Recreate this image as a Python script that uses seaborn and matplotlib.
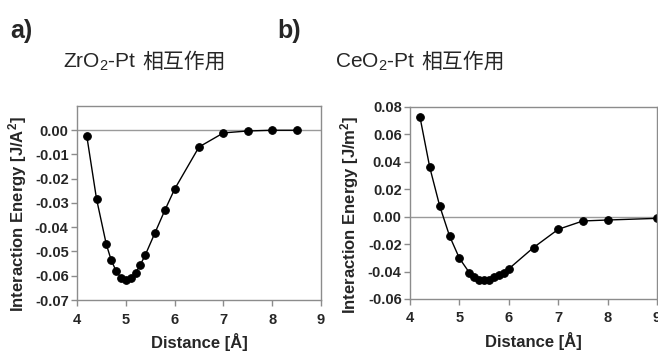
import matplotlib
matplotlib.use("Agg")
import matplotlib.pyplot as plt
import seaborn as sns
import pandas as pd

# Panel a: ZrO2-Pt
dist_a = [4.2, 4.4, 4.6, 4.7, 4.8, 4.9, 5.0, 5.1, 5.2, 5.3, 5.4, 5.6, 5.8, 6.0, 6.5, 7.0, 7.5, 8.0, 8.5]
energy_a = [-0.0023, -0.0283, -0.047, -0.0535, -0.058, -0.0608, -0.0618, -0.0608, -0.0589, -0.0554,
            -0.0514, -0.0422, -0.033, -0.0243, -0.0069, -0.0011, -0.0003, 0.0, 0.0]

# Panel b: CeO2-Pt
dist_b = [4.2, 4.4, 4.6, 4.8, 5.0, 5.2, 5.3, 5.4, 5.5, 5.6, 5.7, 5.8, 5.9, 6.0, 6.5, 7.0, 7.5, 8.0, 9.0]
energy_b = [0.073, 0.036, 0.008, -0.014, -0.0303, -0.0407, -0.044, -0.046, -0.0465, -0.046, -0.0443,
            -0.0426, -0.0407, -0.038, -0.0225, -0.0092, -0.0031, -0.0024, -0.0012]

xticks = [4, 5, 6, 7, 8, 9]
yticks_a = [-0.07, -0.06, -0.05, -0.04, -0.03, -0.02, -0.01, 0.00]
yticks_b = [-0.06, -0.04, -0.02, 0.00, 0.02, 0.04, 0.06, 0.08]

sns.set_style("white")
plt.rcParams['font.family'] = ['Liberation Sans', 'Noto Sans CJK SC', 'DejaVu Sans']
plt.rcParams['mathtext.fontset'] = 'custom'
plt.rcParams['mathtext.rm'] = 'Liberation Sans'
plt.rcParams['mathtext.it'] = 'Liberation Sans:italic'
plt.rcParams['mathtext.bf'] = 'Liberation Sans:bold'

W, H = 658, 356
fig = plt.figure(figsize=(W / 100, H / 100), dpi=100)

def box(l, t, r, b):
    return [l / W, 1 - b / H, (r - l) / W, (b - t) / H]

ax_a = fig.add_axes(box(77, 106, 321, 300))
ax_b = fig.add_axes(box(410, 107, 657, 299))

frame_col = "#8c8c8c"

def style(ax, df, ylim, yticks, ylabel):
    sns.lineplot(data=df, x="d", y="e", ax=ax, color="black", linewidth=1.0,
                 marker="o", markersize=5.5, markeredgecolor="black", markerfacecolor="black")
    ax.axhline(0, color="#9a9a9a", linewidth=1.0, zorder=0)
    ax.set_xlim(4, 9)
    ax.set_ylim(*ylim)
    ax.set_xticks(xticks)
    ax.set_yticks(yticks)
    ax.set_yticklabels([f"{v:.2f}" for v in yticks])
    for s in ax.spines.values():
        s.set_color(frame_col)
        s.set_linewidth(1.0)
    ax.tick_params(axis="both", which="both", direction="out", length=4, width=1,
                   color=frame_col, labelsize=10.5, pad=2)
    ax.tick_params(axis="x", pad=5)
    ax.tick_params(left=True, bottom=True)
    for lab in ax.get_xticklabels() + ax.get_yticklabels():
        lab.set_fontweight("bold")
    ax.set_xlabel("Distance [Å]", fontsize=12, fontweight="bold")
    ax.set_ylabel(ylabel, fontsize=12, fontweight="bold")
    ax.xaxis.set_label_coords(0.5, -(342 - 300) / 194, transform=ax.transAxes)
    ax.xaxis.label.set_va("center")
    ax.yaxis.label.set_va("center")

df_a = pd.DataFrame({"d": dist_a, "e": energy_a})
df_b = pd.DataFrame({"d": dist_b, "e": energy_b})

style(ax_a, df_a, (-0.07, 0.01), yticks_a, "Interaction Energy [J/A$^{\\mathbf{2}}$]")
style(ax_b, df_b, (-0.06, 0.08), yticks_b, "Interaction Energy [J/m$^{\\mathbf{2}}$]")

# y-label positions (figure pixel x of label center, fraction height)
ax_a.yaxis.set_label_coords(-(77 - 18) / 244, 0.44)
ax_b.yaxis.set_label_coords(-(410 - 350) / 247, 0.44)

fig.text(10 / W, 1 - 31 / H, "a)", fontsize=18, fontweight="bold", va="center", ha="left")
fig.text(277 / W, 1 - 31 / H, "b)", fontsize=18, fontweight="bold", va="center", ha="left")

renderer = fig.canvas.get_renderer()

def title(x_px, y_px, chem):
    t1 = fig.text(x_px / W, 1 - y_px / H, chem, fontsize=15, va="baseline", ha="left")
    bb = t1.get_window_extent(renderer=renderer)
    fig.text(bb.x1 / W + 6 / W, 1 - y_px / H, "相互作用", fontsize=15, va="baseline", ha="left",
             family=['Noto Sans CJK SC', 'DejaVu Sans'])

title(63, 68, "ZrO$_2$-Pt")
title(335, 68, "CeO$_2$-Pt")

fig.savefig("out.png", dpi=100)
